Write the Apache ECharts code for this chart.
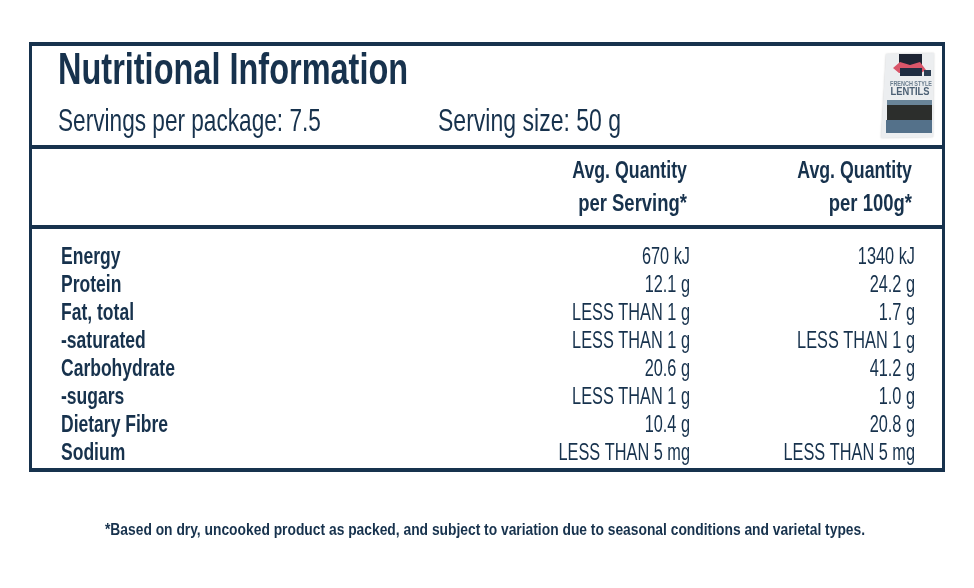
<!DOCTYPE html>
<html><head><meta charset="utf-8">
<style>html,body{margin:0;padding:0;background:#fff}#c{width:974px;height:588px}</style>
<script src="https://cdn.jsdelivr.net/npm/echarts@6/dist/echarts.min.js"></script></head>
<body><div id="c"></div>
<script>
const titleText = 'Nutritional Information';
const servingsText = 'Servings per package: 7.5';
const sizeText = 'Serving size: 50 g';
const col1Head = ['Avg. Quantity', 'per Serving*'];
const col2Head = ['Avg. Quantity', 'per 100g*'];
const nutrients = ['Energy','Protein','Fat, total','-saturated','Carbohydrate','-sugars','Dietary Fibre','Sodium'];
const perServing = ['670 kJ','12.1 g','LESS THAN 1 g','LESS THAN 1 g','20.6 g','LESS THAN 1 g','10.4 g','LESS THAN 5 mg'];
const per100g = ['1340 kJ','24.2 g','1.7 g','LESS THAN 1 g','41.2 g','1.0 g','20.8 g','LESS THAN 5 mg'];
const footnote = '*Based on dry, uncooked product as packed, and subject to variation due to seasonal conditions and varietal types.';

const NAVY = '#17324d';
const FONT = '"Liberation Sans Narrow", "Liberation Sans", sans-serif';
function txt(s, x, y, size, bold, align, sx) {
  return { type:'text', x, y, scaleX: sx||1, z: 5,
    style:{ text:s, fill:NAVY, font:(bold?'bold ':'')+size+'px '+FONT, textAlign:align||'left', textVerticalAlign:'middle' } };
}
function rect(x,y,w,h,fill,extra){ return Object.assign({type:'rect',shape:{x,y,width:w,height:h},style:{fill},z:2},extra||{}); }
function packTxt(s,x,y,size,fill,sx){ return {type:'text',x,y,scaleX:sx,z:6,style:{text:s,fill,font:'bold '+size+'px '+FONT,textAlign:'center',textVerticalAlign:'middle'}}; }

const els = [];
// frame
els.push(rect(29,42,916,4,NAVY), rect(29,468,916,4,NAVY), rect(29,42,3,430,NAVY), rect(942,42,3,430,NAVY));
els.push(rect(29,145,916,4,NAVY), rect(29,225,916,4,NAVY));
// header
els.push(txt(titleText,58,72,45,true,'left',0.722));
els.push(txt(servingsText,58,122,32,false,'left',0.707));
els.push(txt(sizeText,438,122,32,false,'left',0.72));
els.push(txt(col1Head[0],687,171,24,true,'right',0.74), txt(col1Head[1],687,204,24,true,'right',0.77));
els.push(txt(col2Head[0],912,171,24,true,'right',0.74), txt(col2Head[1],912,204,24,true,'right',0.77));
// rows
nutrients.forEach((n,i)=>{
  const y = 257 + i*28;
  els.push(txt(n,61,y,24,true,'left',0.73));
  els.push(txt(perServing[i],690,y,24,false,'right',0.68));
  els.push(txt(per100g[i],915,y,24,false,'right',0.68));
});
els.push(txt(footnote,485,530,17,true,'center',0.813));
// pack thumbnail
els.push({type:'polygon',shape:{points:[[886,54],[934,53],[933,137],[881,138]]},style:{fill:'#eceef0',shadowBlur:2,shadowColor:'#ccc'},z:3});
els.push(rect(899,54,23,13,'#1d2433',{z:4}));
els.push({type:'polygon',shape:{points:[[893,68],[900,62],[910,65],[920,62],[926,70],[921,73],[899,73]]},style:{fill:'#d9566a'},z:4});
els.push(rect(900,68,22,8,'#1f2d42',{z:5}));
els.push(rect(924,70,7,6,'#2b3d52',{z:5}));
els.push(packTxt('FRENCH STYLE',911,84,7,'#6a7d8e',0.78));
els.push(packTxt('LENTILS',910,92,11,'#4c6074',0.85));
els.push(rect(887,100,45,5,'#6a8599',{z:4}));
els.push(rect(887,105,45,15,'#2c2e2c',{z:4}));
els.push(rect(886,120,46,13,'#54718a',{z:4}));

const chart = echarts.init(document.getElementById('c'), null, {renderer:'canvas'});
chart.setOption({ animation:false, backgroundColor:'#fff', graphic:{elements:els} });
</script></body></html>
